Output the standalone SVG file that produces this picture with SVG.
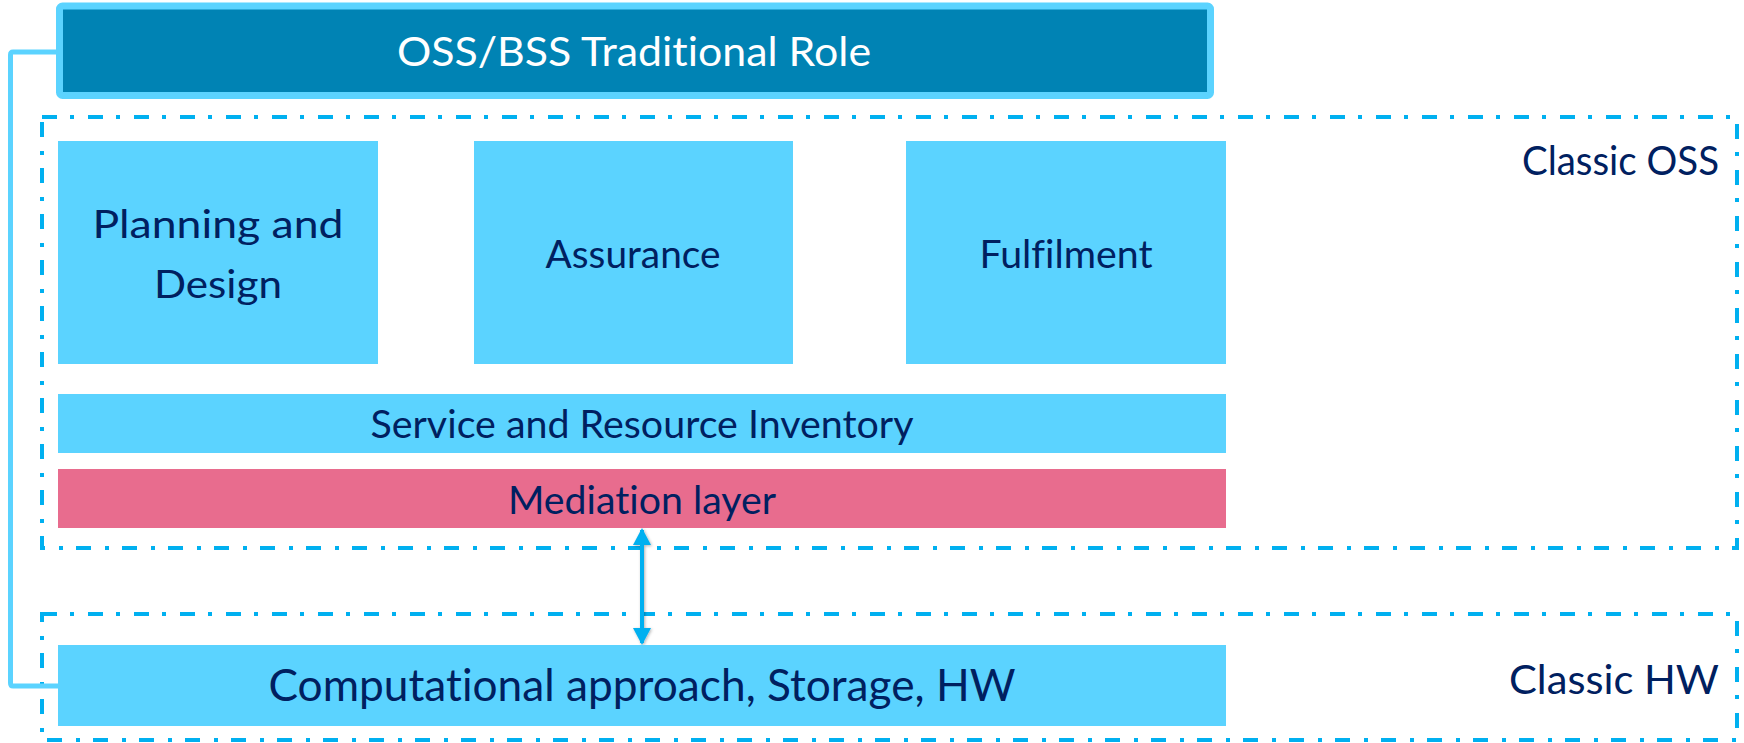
<svg xmlns="http://www.w3.org/2000/svg" width="1744" height="743" viewBox="0 0 1744 743">
  <style>
    text { font-variant-ligatures: none; font-feature-settings: "liga" 0, "clig" 0; }
    .box { fill: #5BD3FF; }
    .med { fill: #E86C8E; }
    .dash { fill: none; stroke: #00B0F0; stroke-width: 4; stroke-dasharray: 15 13 4 14; }
    .t { font-family: Lato, "Open Sans", "Liberation Sans", sans-serif; fill: #002060; text-anchor: middle; }
    .t38 { font-size: 38px; }
    .t45 { font-size: 45px; }
    .title { font-family: Lato, "Open Sans", "Liberation Sans", sans-serif; fill: #FFFFFF; font-size: 40px; text-anchor: middle; }
    .lbl { font-family: Lato, "Open Sans", "Liberation Sans", sans-serif; fill: #002060; font-size: 41px; text-anchor: end; }
  </style>
  <defs>
    <marker id="ah" viewBox="0 0 17 18" refX="15" refY="9" markerWidth="17" markerHeight="18" markerUnits="userSpaceOnUse" orient="auto-start-reverse">
      <path d="M0,0 L17,9 L0,18 Z" fill="#00B0F0"/>
    </marker>
    <filter id="sh" filterUnits="userSpaceOnUse" x="615" y="515" width="55" height="145">
      <feDropShadow dx="1" dy="1" stdDeviation="1.5" flood-color="#000" flood-opacity="0.3"/>
    </filter>
  </defs>
  <rect width="1744" height="743" fill="#FFFFFF"/>

  <g id="containers">
    <rect id="classic-oss" class="dash" x="42" y="117" width="1695" height="431"/>
    <rect id="classic-hw" class="dash" x="42" y="614" width="1695" height="126"/>
    <text class="lbl" x="1719" y="175" textLength="197" lengthAdjust="spacingAndGlyphs">Classic OSS</text>
    <text class="lbl" x="1719" y="694" textLength="210" lengthAdjust="spacingAndGlyphs">Classic HW</text>
  </g>

  <g id="connectors">
    <path d="M58,52 L13,52 Q10.5,52 10.5,55 L10.5,683 Q10.5,686 13,686 L58,686" fill="none" stroke="#5BD3FF" stroke-width="5"/>
    <g filter="url(#sh)">
      <line x1="642" y1="530" x2="642" y2="643" stroke="#00B0F0" stroke-width="4" marker-start="url(#ah)" marker-end="url(#ah)"/>
    </g>
  </g>

  <g id="oss-bss-role">
    <rect x="59.5" y="6" width="1151" height="89.5" rx="3" fill="#0083B4" stroke="#5BD3FF" stroke-width="7"/>
    <text class="title" x="634" y="66" textLength="474" lengthAdjust="spacingAndGlyphs">OSS/BSS Traditional Role</text>
  </g>

  <g id="planning">
    <rect class="box" x="58" y="141" width="320" height="223"/>
    <text class="t t38" x="218" y="238" textLength="251" lengthAdjust="spacingAndGlyphs">Planning and</text>
    <text class="t t38" x="218" y="298" textLength="128" lengthAdjust="spacingAndGlyphs">Design</text>
  </g>

  <g id="assurance">
    <rect class="box" x="474" y="141" width="319" height="223"/>
    <text class="t t38" x="633" y="268" textLength="175" lengthAdjust="spacingAndGlyphs">Assurance</text>
  </g>

  <g id="fulfilment">
    <rect class="box" x="906" y="141" width="320" height="223"/>
    <text class="t t38" x="1066" y="268" textLength="173" lengthAdjust="spacingAndGlyphs">Fulfilment</text>
  </g>

  <g id="inventory">
    <rect class="box" x="58" y="394" width="1168" height="59"/>
    <text class="t t38" x="642" y="438" textLength="543" lengthAdjust="spacingAndGlyphs">Service and Resource Inventory</text>
  </g>

  <g id="mediation">
    <rect class="med" x="58" y="469" width="1168" height="59"/>
    <text class="t t38" x="642" y="514" textLength="268" lengthAdjust="spacingAndGlyphs">Mediation layer</text>
  </g>

  <g id="computational">
    <rect class="box" x="58" y="645" width="1168" height="81"/>
    <text class="t t45" x="642" y="701" textLength="747" lengthAdjust="spacingAndGlyphs">Computational approach, Storage, HW</text>
  </g>
</svg>
